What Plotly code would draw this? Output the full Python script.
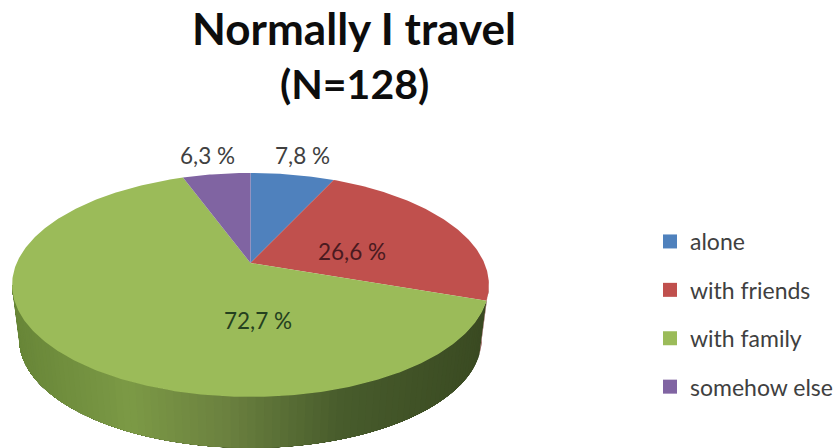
import math
import plotly.graph_objects as go

# ---- data ----
categories = ["alone", "with friends", "with family", "somehow else"]
values = [7.8, 26.6, 72.7, 6.3]
labels = ["7,8 %", "26,6 %", "72,7 %", "6,3 %"]
title_lines = ["Normally I travel", "(N=128)"]

# ---- styles / geometry ----
colors = ["#4f81bd", "#c0504d", "#9bbb59", "#8064a2"]
label_colors = ["#404040", "#4a1a20", "#24401f", "#404040"]
label_pos = [(302, 155), (352, 251), (258, 320), (207, 155)]
CX, CY, A, B, P = 250.5, 263, 233.8, 107.7, 0.196
DEPTH = 55
BOTTOM_SCALE = 0.97
FONT = "Lato"


def project(theta, r=1.0, drop=0.0, scale=1.0):
    """Pie-angle (degrees clockwise from top) to page position, with perspective."""
    t = math.radians(theta)
    u, v = r * math.sin(t), -r * math.cos(t)
    w = 1 - P * v
    return CX + scale * A * u / w, CY + scale * B * v / w + drop


def arc(a0, a1, n, drop=0.0, scale=1.0):
    n = max(n, 2)
    return [project(a0 + (a1 - a0) * i / n, drop=drop, scale=scale) for i in range(n + 1)]


def mix(stops, f):
    f = min(max(f, 0.0), 1.0)
    for (f0, c0), (f1, c1) in zip(stops, stops[1:]):
        if f <= f1:
            k = (f - f0) / (f1 - f0)
            return "rgb(%d,%d,%d)" % tuple(c0[i] + (c1[i] - c0[i]) * k for i in range(3))
    return "rgb(%d,%d,%d)" % stops[-1][1]


total = sum(values)
bounds = [0.0]
for val in values:
    bounds.append(bounds[-1] + val / total * 360)

side_stops = [
    (0.00, (104, 134, 56)),
    (0.25, (124, 154, 70)),
    (0.45, (108, 130, 64)),
    (0.70, (72, 92, 44)),
    (1.00, (58, 74, 34)),
]

fig = go.Figure()


def poly(pts, color):
    fig.add_trace(go.Scatter(
        x=[p[0] for p in pts] + [pts[0][0]],
        y=[p[1] for p in pts] + [pts[0][1]],
        mode="lines", fill="toself", fillcolor=color,
        line=dict(color=color, width=0),
        hoverinfo="skip", showlegend=False,
    ))


# angles where the rim is widest on screen, from the perspective factor
right_edge = math.degrees(math.acos(-P))
left_edge = 360 - right_edge

# rim wall: green part, drawn right to left with overlapping strips
red_end = bounds[2]
N = 90
for i in range(N):
    a0 = red_end + (left_edge - red_end) * i / N
    a1 = left_edge
    x_mid = project(a0)[0]
    col = mix(side_stops, (x_mid - 13) / 477)
    poly(arc(a0, a1, 50) + arc(a1, a0, 50, drop=DEPTH, scale=BOTTOM_SCALE), col)

# rim wall: small red part on the right
poly(arc(right_edge, red_end, 8) + arc(red_end, right_edge, 8, drop=DEPTH, scale=BOTTOM_SCALE), "#7d3432")

# top faces, one per slice
for i, name in enumerate(categories):
    a0, a1 = bounds[i], bounds[i + 1]
    pts = [project(0, r=0)] + arc(a0, a1, int((a1 - a0) * 1.5))
    poly(pts, colors[i])

# legend entries
for name, col in zip(categories, colors):
    fig.add_trace(go.Scatter(
        x=[None], y=[None], mode="markers", name=name, legendgroup=name,
        marker=dict(symbol="square", size=14, color=col),
    ))

annotations = [
    dict(x=x, y=y, text=t, xref="x", yref="y", showarrow=False,
         font=dict(family=FONT, size=22.5, color=c))
    for (x, y), t, c in zip(label_pos, labels, label_colors)
]
annotations.append(dict(x=354, y=83, text="<b>%s</b>" % title_lines[1], xref="x", yref="y",
                        showarrow=False, font=dict(family=FONT, size=41, color="#0d0d0d")))

fig.update_layout(
    width=840, height=448,
    margin=dict(l=0, r=0, t=0, b=0),
    paper_bgcolor="white", plot_bgcolor="white",
    title=dict(text="<b>%s</b>" % title_lines[0], x=354 / 840, xanchor="center",
               y=1 - 30 / 448, yanchor="middle",
               font=dict(family=FONT, size=44, color="#0d0d0d")),
    xaxis=dict(range=[0, 840], visible=False, fixedrange=True),
    yaxis=dict(range=[448, 0], visible=False, fixedrange=True),
    legend=dict(x=650 / 840, y=1 - 220 / 448, xanchor="left", yanchor="top",
                tracegroupgap=15.5, bgcolor="rgba(0,0,0,0)",
                font=dict(family=FONT, size=23, color="#404040")),
    annotations=annotations,
    showlegend=True,
)

fig.write_html("out.html", config={"displayModeBar": False},
               post_script="document.body.style.margin='0';document.body.style.overflow='hidden';")
